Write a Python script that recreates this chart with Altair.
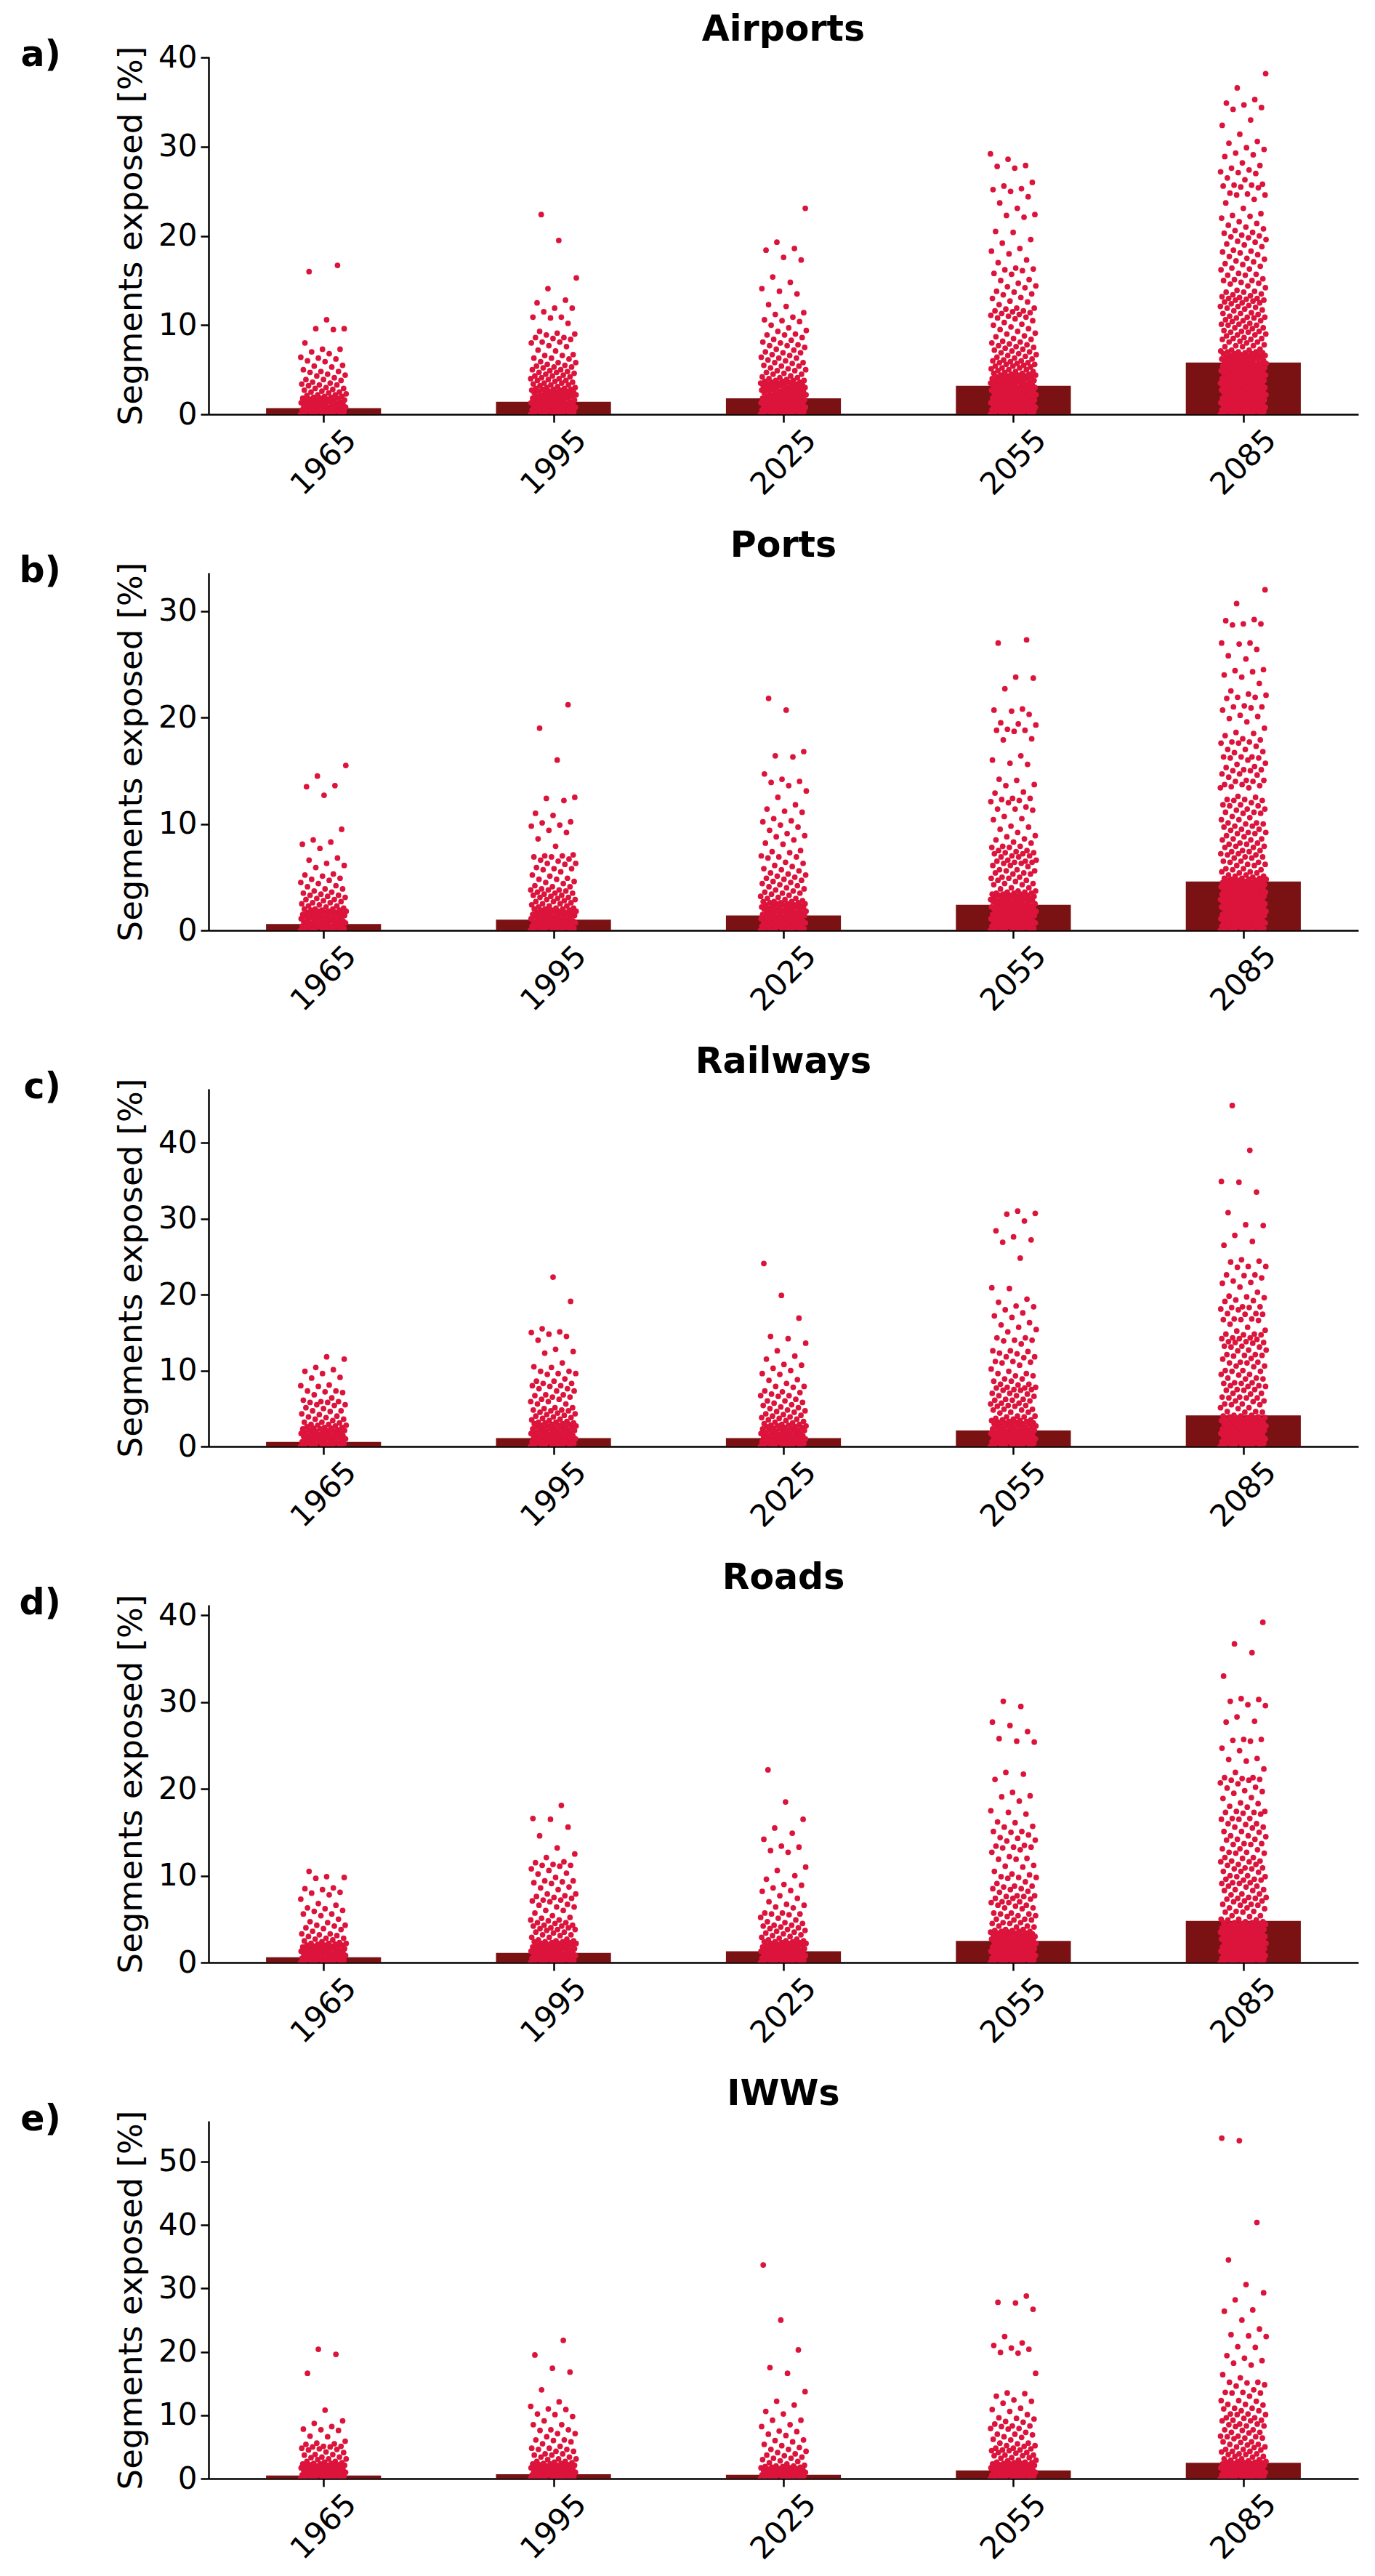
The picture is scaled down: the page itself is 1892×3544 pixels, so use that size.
import altair as alt
import pandas as pd

FONT = "DejaVu Sans"
BAR_COLOR = "#7a1113"
POINT_COLOR = "#dc143c"

YEARS = ["1965", "1995", "2025", "2055", "2085"]
PANELS = ["Airports", "Ports", "Railways", "Roads", "IWWs"]
LETTERS = ["a)", "b)", "c)", "d)", "e)"]
Y_MAX = [40.1, 33.6, 47.1, 41.2, 56.4]
Y_TICKS = [[0, 10, 20, 30, 40], [0, 10, 20, 30], [0, 10, 20, 30, 40],
           [0, 10, 20, 30, 40], [0, 10, 20, 30, 40, 50]]

# bar heights (mean share of segments exposed, %)
MEAN_AIRPORTS = [0.7, 1.4, 1.8, 3.2, 5.8]
MEAN_PORTS = [0.6, 1.0, 1.4, 2.4, 4.6]
MEAN_RAILWAYS = [0.6, 1.1, 1.1, 2.1, 4.1]
MEAN_ROADS = [0.6, 1.1, 1.3, 2.5, 4.8]
MEAN_IWWS = [0.5, 0.7, 0.6, 1.3, 2.5]

# individual regions (strip points), % of segments exposed
AIR_1965 = [16.7, 16.0, 10.6, 9.6, 9.6, 9.5, 8.0, 7.3, 7.3, 7.0, 6.8, 6.4, 6.3, 6.2, 6.0, 5.9, 5.5, 5.4, 5.3, 5.0,
            4.8, 4.8, 4.7, 4.5, 4.4, 4.3, 4.1, 3.9, 3.9, 3.8, 3.6, 3.5, 3.4, 3.3, 3.3, 3.2, 3.0, 2.9, 2.9, 2.8,
            2.7, 2.6, 2.5, 2.5, 2.4, 2.3, 2.2, 2.2, 2.1, 2.0, 2.0,
            0.0, 0.0, 0.0, 0.1, 0.1, 0.2, 0.2, 0.2, 0.3, 0.3, 0.4, 0.4, 0.4, 0.5, 0.5, 0.6, 0.6, 0.6, 0.7, 0.7,
            0.8, 0.8, 0.8, 0.9, 0.9, 1.0, 1.0, 1.0, 1.1, 1.1, 1.2, 1.2, 1.2, 1.3, 1.3, 1.4, 1.4, 1.4, 1.5, 1.5,
            1.6, 1.6, 1.6, 1.7, 1.7, 1.8, 1.8, 1.8, 1.9, 1.9]
AIR_1995 = [22.4, 19.5, 15.3, 14.1, 12.8, 12.5, 11.9, 11.9, 11.5, 10.9, 10.9, 10.8, 10.2, 9.3, 9.1, 9.0, 8.9, 8.6,
            8.6, 8.5, 8.4, 8.1, 8.1, 8.0, 7.7, 7.6, 7.2, 7.1, 6.7, 6.6, 6.6, 6.3, 6.3, 6.2, 5.9, 5.8, 5.8, 5.6,
            5.5, 5.4, 5.3, 5.3, 5.2, 5.0, 5.0, 4.9, 4.8, 4.7, 4.7, 4.6, 4.5, 4.4, 4.3, 4.3, 4.2, 4.1, 4.0, 4.0,
            3.9, 3.8, 3.8, 3.7, 3.6, 3.5, 3.5, 3.4, 3.3, 3.3, 3.2, 3.1, 3.0, 3.0,
            0.0, 0.0, 0.0, 0.1, 0.1, 0.2, 0.2, 0.2, 0.3, 0.3, 0.4, 0.4, 0.4, 0.5, 0.5, 0.6, 0.6, 0.6, 0.7, 0.7,
            0.8, 0.8, 0.8, 0.9, 0.9, 1.0, 1.0, 1.0, 1.1, 1.1, 1.2, 1.2, 1.2, 1.3, 1.3, 1.4, 1.4, 1.4, 1.5, 1.5,
            1.6, 1.6, 1.6, 1.7, 1.7, 1.8, 1.8, 1.8, 1.9, 1.9, 2.0, 2.0, 2.0, 2.1, 2.1, 2.2, 2.2, 2.2, 2.3, 2.3,
            2.4, 2.4, 2.4, 2.5, 2.5, 2.6, 2.6, 2.6, 2.7, 2.7, 2.8, 2.8, 2.8, 2.9, 2.9]
AIR_2025 = [23.1, 19.3, 18.6, 18.4, 17.6, 17.3, 15.4, 14.8, 14.1, 13.8, 13.5, 12.3, 12.1, 11.4, 11.2, 10.9, 10.6,
            10.5, 10.4, 10.0, 9.7, 9.4, 9.3, 9.0, 8.9, 8.9, 8.6, 8.4, 8.3, 8.1, 8.0, 7.8, 7.7, 7.7, 7.5, 7.3,
            7.2, 7.0, 6.9, 6.9, 6.7, 6.6, 6.4, 6.3, 6.3, 6.1, 6.0, 5.8, 5.8, 5.7, 5.5, 5.4, 5.4, 5.2, 5.1, 5.0,
            4.9, 4.9, 4.7, 4.6, 4.5, 4.5, 4.3, 4.2, 4.1, 4.1, 4.0, 3.9,
            0.0, 0.0, 0.0, 0.1, 0.1, 0.2, 0.2, 0.2, 0.3, 0.3, 0.4, 0.4, 0.4, 0.5, 0.5, 0.6, 0.6, 0.6, 0.7, 0.7,
            0.8, 0.8, 0.8, 0.9, 0.9, 1.0, 1.0, 1.0, 1.1, 1.1, 1.2, 1.2, 1.2, 1.3, 1.3, 1.4, 1.4, 1.4, 1.5, 1.5,
            1.6, 1.6, 1.6, 1.7, 1.7, 1.8, 1.8, 1.8, 1.9, 1.9, 2.0, 2.0, 2.0, 2.1, 2.1, 2.2, 2.2, 2.2, 2.3, 2.3,
            2.4, 2.4, 2.4, 2.5, 2.5, 2.6, 2.6, 2.6, 2.7, 2.7, 2.8, 2.8, 2.8, 2.9, 2.9, 3.0, 3.0, 3.0, 3.1, 3.1,
            3.2, 3.2, 3.2, 3.3, 3.3, 3.4, 3.4, 3.4, 3.5, 3.5, 3.6, 3.6, 3.6, 3.7, 3.7, 3.8, 3.8, 3.8]
AIR_2055 = [29.2, 28.6, 27.9, 27.8, 27.6, 26.0, 25.6, 25.3, 25.2, 25.0, 24.4, 23.7, 23.1, 22.4, 22.3, 22.1, 20.5,
            20.4, 19.6, 19.2, 18.6, 18.3, 18.0, 17.3, 17.0, 16.4, 16.3, 16.2, 16.1, 15.8, 15.7, 15.1, 15.0, 14.7,
            14.4, 14.3, 14.2, 13.8, 13.7, 13.5, 13.4, 13.1, 13.0, 12.7, 12.6, 12.3, 11.9, 11.9, 11.8, 11.6, 11.6,
            11.5, 11.4, 11.3, 11.2, 11.1, 11.0, 10.9, 10.8, 10.7, 10.5, 10.3, 10.1, 10.0, 9.8, 9.6, 9.5, 9.3,
            9.1, 9.0, 8.8, 8.7, 8.5, 8.4, 8.2, 8.1, 8.0, 7.9, 7.8, 7.7, 7.6, 7.5, 7.4, 7.3, 7.2, 7.1, 7.0, 6.9,
            6.8, 6.7, 6.6, 6.5, 6.4, 6.3, 6.2,
            6.1, 6.0, 6.0, 5.9, 5.8, 5.8, 5.7, 5.6, 5.6, 5.5, 5.4, 5.4, 5.3, 5.2, 5.2, 5.1, 5.0, 5.0, 4.9, 4.8,
            4.8, 4.7, 4.6, 4.6,
            0.0, 0.0, 0.0, 0.1, 0.1, 0.2, 0.2, 0.2, 0.3, 0.3, 0.4, 0.4, 0.4, 0.5, 0.5, 0.6, 0.6, 0.6, 0.7, 0.7,
            0.8, 0.8, 0.8, 0.9, 0.9, 1.0, 1.0, 1.0, 1.1, 1.1, 1.2, 1.2, 1.2, 1.3, 1.3, 1.4, 1.4, 1.4, 1.5, 1.5,
            1.6, 1.6, 1.6, 1.7, 1.7, 1.8, 1.8, 1.8, 1.9, 1.9, 2.0, 2.0, 2.0, 2.1, 2.1, 2.2, 2.2, 2.2, 2.3, 2.3,
            2.4, 2.4, 2.4, 2.5, 2.5, 2.6, 2.6, 2.6, 2.7, 2.7, 2.8, 2.8, 2.8, 2.9, 2.9, 3.0, 3.0, 3.0, 3.1, 3.1,
            3.2, 3.2, 3.2, 3.3, 3.3, 3.4, 3.4, 3.4, 3.5, 3.5, 3.6, 3.6, 3.6, 3.7, 3.7, 3.8, 3.8, 3.8, 3.9, 3.9,
            4.0, 4.0, 4.0, 4.1, 4.1, 4.2, 4.2, 4.2, 4.3, 4.3, 4.4, 4.4, 4.4, 4.5, 4.5]
AIR_2085 = [38.2, 36.6, 35.3, 34.9, 34.7, 34.4, 34.2, 33.0, 32.4, 31.4, 30.6, 30.4, 29.9, 29.7, 29.3, 29.1, 28.9,
            28.2, 27.9, 27.6, 27.4, 27.2, 27.1, 27.0, 26.5, 26.3, 25.8, 25.7, 25.7, 25.6, 25.5, 25.4, 24.8, 24.7,
            24.6, 24.6, 24.1, 23.7, 23.1, 22.5, 22.3, 22.2, 22.0, 21.6, 21.4, 21.2, 21.0, 20.8, 20.6, 20.4, 20.3,
            20.1, 20.0, 19.9, 19.8, 19.6, 19.4, 19.3, 19.1, 19.0, 18.8, 18.4, 18.3, 18.2, 18.1, 17.9, 17.7, 17.5,
            17.4, 17.2, 17.1, 16.9, 16.8, 16.6, 16.4, 16.3, 16.2, 15.8, 15.7, 15.6, 15.6, 15.2, 15.1, 15.0, 15.0,
            14.8, 14.7, 14.6, 14.4, 14.2, 13.9, 13.8, 13.7, 13.7, 13.5, 13.4, 13.3, 13.2, 13.1, 13.0, 13.0, 12.9,
            12.8, 12.8, 12.7, 12.6, 12.5, 12.5, 12.4, 12.2, 12.1, 12.1, 12.0, 11.9, 11.8, 11.7, 11.6, 11.4, 11.3,
            11.3, 11.2, 11.0, 10.9, 10.9, 10.8, 10.8, 10.6, 10.5, 10.5, 10.4, 10.2, 10.1, 10.1, 10.0, 10.0, 9.8,
            9.7, 9.7, 9.6, 9.4, 9.3, 9.3, 9.2, 9.2, 9.0, 8.9, 8.9, 8.8, 8.6, 8.5, 8.5, 8.4, 8.4, 8.2, 8.1, 8.1,
            8.0, 7.8, 7.7, 7.7, 7.6, 7.6, 7.3, 7.2, 7.2, 7.1,
            0.0, 0.0, 0.0, 0.1, 0.1, 0.2, 0.2, 0.2, 0.3, 0.3, 0.4, 0.4, 0.4, 0.5, 0.5, 0.6, 0.6, 0.6, 0.7, 0.7,
            0.8, 0.8, 0.8, 0.9, 0.9, 1.0, 1.0, 1.0, 1.1, 1.1, 1.2, 1.2, 1.2, 1.3, 1.3, 1.4, 1.4, 1.4, 1.5, 1.5,
            1.6, 1.6, 1.6, 1.7, 1.7, 1.8, 1.8, 1.8, 1.9, 1.9, 2.0, 2.0, 2.0, 2.1, 2.1, 2.2, 2.2, 2.2, 2.3, 2.3,
            2.4, 2.4, 2.4, 2.5, 2.5, 2.6, 2.6, 2.6, 2.7, 2.7, 2.8, 2.8, 2.8, 2.9, 2.9, 3.0, 3.0, 3.0, 3.1, 3.1,
            3.2, 3.2, 3.2, 3.3, 3.3, 3.4, 3.4, 3.4, 3.5, 3.5, 3.6, 3.6, 3.6, 3.7, 3.7, 3.8, 3.8, 3.8, 3.9, 3.9,
            4.0, 4.0, 4.0, 4.1, 4.1, 4.2, 4.2, 4.2, 4.3, 4.3, 4.4, 4.4, 4.4, 4.5, 4.5, 4.6, 4.6, 4.6, 4.7, 4.7,
            4.8, 4.8, 4.8, 4.9, 4.9, 5.0, 5.0, 5.0, 5.1, 5.1, 5.2, 5.2, 5.2, 5.3, 5.3, 5.4, 5.4, 5.4, 5.5, 5.5,
            5.6, 5.6, 5.6, 5.7, 5.7, 5.8, 5.8, 5.8, 5.9, 5.9, 6.0, 6.0, 6.0, 6.1, 6.1, 6.2, 6.2, 6.2, 6.3, 6.3,
            6.4, 6.4, 6.4, 6.5, 6.5, 6.6, 6.6, 6.6, 6.7, 6.7, 6.8, 6.8, 6.8, 6.9, 6.9, 7.0, 7.0, 7.0]

PORT_1965 = [15.5, 14.5, 13.6, 13.5, 12.7, 9.5, 8.5, 8.3, 8.1, 7.7, 6.8, 6.6, 6.3, 6.1, 5.9, 5.3, 5.2, 5.1, 4.9,
             4.8, 4.7, 4.5, 4.4, 4.2, 4.1, 3.9, 3.9, 3.7, 3.6, 3.5, 3.4, 3.3, 3.3, 3.2, 3.1, 3.0, 2.9, 2.9, 2.8,
             2.7, 2.6, 2.6, 2.5, 2.4, 2.3, 2.3, 2.2, 2.1,
             0.0, 0.0, 0.0, 0.1, 0.1, 0.1, 0.2, 0.2, 0.2, 0.3, 0.3, 0.3, 0.4, 0.4, 0.4, 0.5, 0.5, 0.5, 0.6, 0.6,
             0.6, 0.7, 0.7, 0.7, 0.8, 0.8, 0.8, 0.9, 0.9, 0.9, 1.0, 1.0, 1.0, 1.1, 1.1, 1.1, 1.2, 1.2, 1.2, 1.3,
             1.3, 1.3, 1.4, 1.4, 1.4, 1.5, 1.5, 1.5, 1.6, 1.6, 1.6, 1.7, 1.7, 1.7, 1.8, 1.8, 1.8, 1.9, 1.9, 1.9,
             2.0, 2.0, 2.0]
PORT_1995 = [21.2, 19.0, 16.0, 12.5, 12.4, 12.2, 11.0, 10.8, 10.2, 10.1, 9.9, 9.8, 9.4, 9.2, 8.6, 7.9, 7.1, 7.0,
             7.0, 6.9, 6.9, 6.7, 6.6, 6.5, 6.3, 6.3, 6.2, 5.9, 5.8, 5.8, 5.7, 5.5, 5.2, 5.1, 4.9, 4.8, 4.8, 4.6,
             4.5, 4.4, 4.2, 4.1, 4.1, 3.9, 3.8, 3.8, 3.8, 3.7, 3.6, 3.5, 3.5, 3.4, 3.3, 3.3, 3.2, 3.1, 3.1, 3.0,
             2.9, 2.9, 2.8, 2.7, 2.7, 2.6, 2.5, 2.5, 2.4, 2.3, 2.3, 2.2, 2.1, 2.1,
             0.0, 0.0, 0.0, 0.1, 0.1, 0.1, 0.2, 0.2, 0.2, 0.3, 0.3, 0.3, 0.4, 0.4, 0.4, 0.5, 0.5, 0.5, 0.6, 0.6,
             0.6, 0.7, 0.7, 0.7, 0.8, 0.8, 0.8, 0.9, 0.9, 0.9, 1.0, 1.0, 1.0, 1.1, 1.1, 1.1, 1.2, 1.2, 1.2, 1.3,
             1.3, 1.3, 1.4, 1.4, 1.4, 1.5, 1.5, 1.5, 1.6, 1.6, 1.6, 1.7, 1.7, 1.7, 1.8, 1.8, 1.8, 1.9, 1.9, 1.9,
             2.0, 2.0, 2.0]
PORT_2025 = [21.8, 20.7, 16.8, 16.4, 16.3, 14.7, 14.2, 14.0, 13.9, 13.6, 13.1, 12.5, 11.8, 11.4, 11.2, 11.1, 10.5,
             10.3, 10.2, 9.9, 9.7, 9.4, 9.1, 8.9, 8.8, 8.5, 8.2, 8.1, 7.5, 7.4, 7.3, 7.0, 6.9, 6.9, 6.8, 6.4, 6.3,
             6.1, 6.0, 5.8, 5.7, 5.6, 5.4, 5.3, 5.2, 5.1, 5.0, 4.9, 4.8, 4.7, 4.6, 4.5, 4.4, 4.3, 4.2, 4.1, 4.0,
             3.9, 3.8, 3.7, 3.6, 3.5, 3.5, 3.4, 3.3, 3.2, 3.1, 3.0, 3.0, 2.9, 2.8,
             0.0, 0.0, 0.0, 0.1, 0.1, 0.1, 0.2, 0.2, 0.2, 0.3, 0.3, 0.3, 0.4, 0.4, 0.4, 0.5, 0.5, 0.5, 0.6, 0.6,
             0.6, 0.7, 0.7, 0.7, 0.8, 0.8, 0.8, 0.9, 0.9, 0.9, 1.0, 1.0, 1.0, 1.1, 1.1, 1.1, 1.2, 1.2, 1.2, 1.3,
             1.3, 1.3, 1.4, 1.4, 1.4, 1.5, 1.5, 1.5, 1.6, 1.6, 1.6, 1.7, 1.7, 1.7, 1.8, 1.8, 1.8, 1.9, 1.9, 1.9,
             2.0, 2.0, 2.0, 2.1, 2.1, 2.1, 2.2, 2.2, 2.2, 2.3, 2.3, 2.3, 2.4, 2.4, 2.4, 2.5, 2.5, 2.5, 2.6, 2.6,
             2.6, 2.7, 2.7, 2.7]
PORT_2055 = [27.3, 27.0, 23.8, 23.7, 22.7, 20.8, 20.7, 20.6, 20.3, 19.5, 19.4, 19.3, 18.9, 18.8, 18.8, 18.7, 18.0,
             17.9, 16.4, 16.0, 15.7, 15.6, 14.2, 14.1, 13.7, 13.6, 13.0, 12.9, 12.4, 12.4, 12.3, 12.2, 12.1, 12.0,
             11.6, 11.4, 11.4, 11.3, 10.7, 10.5, 10.4, 9.8, 9.7, 9.5, 9.2, 8.9, 8.8, 8.6, 8.5, 8.3, 8.2, 7.9, 7.9,
             7.8, 7.8, 7.5, 7.5, 7.4, 7.3, 7.3, 7.2, 7.2, 7.0, 7.0, 6.9, 6.9, 6.6, 6.6, 6.5, 6.5, 6.4, 6.4, 6.3,
             6.3, 6.1, 6.1, 6.0, 5.7, 5.7, 5.6, 5.6, 5.4, 5.4, 5.3, 5.3, 5.0, 5.0, 4.9, 4.9, 4.7, 4.7, 4.6, 4.4,
             4.4, 4.3, 4.3, 4.0, 4.0, 3.9, 3.7, 3.7, 3.6, 3.6,
             0.0, 0.0, 0.0, 0.1, 0.1, 0.1, 0.2, 0.2, 0.2, 0.3, 0.3, 0.3, 0.4, 0.4, 0.4, 0.5, 0.5, 0.5, 0.6, 0.6,
             0.6, 0.7, 0.7, 0.7, 0.8, 0.8, 0.8, 0.9, 0.9, 0.9, 1.0, 1.0, 1.0, 1.1, 1.1, 1.1, 1.2, 1.2, 1.2, 1.3,
             1.3, 1.3, 1.4, 1.4, 1.4, 1.5, 1.5, 1.5, 1.6, 1.6, 1.6, 1.7, 1.7, 1.7, 1.8, 1.8, 1.8, 1.9, 1.9, 1.9,
             2.0, 2.0, 2.0, 2.1, 2.1, 2.1, 2.2, 2.2, 2.2, 2.3, 2.3, 2.3, 2.4, 2.4, 2.4, 2.5, 2.5, 2.5, 2.6, 2.6,
             2.6, 2.7, 2.7, 2.7, 2.8, 2.8, 2.8, 2.9, 2.9, 2.9, 3.0, 3.0, 3.0, 3.1, 3.1, 3.1, 3.2, 3.2, 3.2, 3.3,
             3.3, 3.3, 3.4, 3.4, 3.4, 3.5, 3.5, 3.5]
PORT_2085 = [32.0, 30.7, 29.2, 29.1, 28.8, 28.8, 28.7, 27.0, 27.0, 26.9, 26.4, 25.8, 25.5, 24.5, 24.4, 24.3, 24.0,
             23.8, 23.2, 22.5, 22.2, 22.1, 21.9, 21.9, 21.8, 21.1, 21.0, 21.0, 20.9, 20.7, 20.2, 20.1, 19.9, 19.6,
             19.0, 18.6, 18.5, 18.3, 18.0, 17.9, 17.7, 17.7, 17.6, 17.6, 17.3, 17.0, 17.0, 16.8, 16.7, 16.3, 16.3,
             16.3, 16.2, 16.2, 16.0, 15.7, 15.6, 15.4, 15.3, 15.1, 15.1, 15.0, 15.0, 14.7, 14.7, 14.6, 14.4, 14.1,
             14.1, 14.0, 14.0, 13.7, 13.7, 13.6, 13.5, 13.4, 13.4, 12.6, 12.5, 12.3, 12.3, 12.2, 12.2, 12.0, 11.8,
             11.8, 11.7, 11.7, 11.4, 11.4, 11.3, 11.1, 11.1, 11.0, 11.0, 10.7, 10.6, 10.4, 10.4, 10.1, 10.1, 10.0,
             10.0, 9.8, 9.8, 9.7, 9.5, 9.5, 9.4, 9.2, 9.2, 9.1, 9.1, 8.9, 8.8, 8.6, 8.6, 8.5, 8.5, 8.2, 8.2, 8.1,
             8.1, 7.9, 7.9, 7.8, 7.8, 7.5, 7.5, 7.4, 7.4, 7.2, 7.2, 7.1, 7.1, 6.9, 6.9, 6.8, 6.8, 6.5, 6.5, 6.4,
             6.4, 6.2, 6.2, 6.1, 6.1, 5.8, 5.8, 5.7, 5.7, 5.5, 5.5, 5.4, 5.4, 5.2, 5.2, 5.1, 5.1, 5.0,
             0.0, 0.0, 0.0, 0.1, 0.1, 0.1, 0.2, 0.2, 0.2, 0.3, 0.3, 0.3, 0.4, 0.4, 0.4, 0.5, 0.5, 0.5, 0.6, 0.6,
             0.6, 0.7, 0.7, 0.7, 0.8, 0.8, 0.8, 0.9, 0.9, 0.9, 1.0, 1.0, 1.0, 1.1, 1.1, 1.1, 1.2, 1.2, 1.2, 1.3,
             1.3, 1.3, 1.4, 1.4, 1.4, 1.5, 1.5, 1.5, 1.6, 1.6, 1.6, 1.7, 1.7, 1.7, 1.8, 1.8, 1.8, 1.9, 1.9, 1.9,
             2.0, 2.0, 2.0, 2.1, 2.1, 2.1, 2.2, 2.2, 2.2, 2.3, 2.3, 2.3, 2.4, 2.4, 2.4, 2.5, 2.5, 2.5, 2.6, 2.6,
             2.6, 2.7, 2.7, 2.7, 2.8, 2.8, 2.8, 2.9, 2.9, 2.9, 3.0, 3.0, 3.0, 3.1, 3.1, 3.1, 3.2, 3.2, 3.2, 3.3,
             3.3, 3.3, 3.4, 3.4, 3.4, 3.5, 3.5, 3.5, 3.6, 3.6, 3.6, 3.7, 3.7, 3.7, 3.8, 3.8, 3.8, 3.9, 3.9, 3.9,
             4.0, 4.0, 4.0, 4.1, 4.1, 4.1, 4.2, 4.2, 4.2, 4.3, 4.3, 4.3, 4.4, 4.4, 4.4, 4.5, 4.5, 4.5, 4.6, 4.6,
             4.6, 4.7, 4.7, 4.7, 4.8, 4.8, 4.8, 4.9, 4.9, 4.9]

RAIL_1965 = [11.8, 11.5, 10.4, 10.1, 9.9, 9.6, 9.1, 9.0, 8.1, 8.0, 7.9, 7.3, 7.3, 7.2, 7.1, 6.8, 6.4, 6.1, 5.9,
             5.9, 5.8, 5.8, 5.5, 5.5, 5.4, 5.1, 5.0, 4.7, 4.7, 4.6, 4.3, 4.2, 4.0, 3.9, 3.8, 3.6, 3.6, 3.4, 3.2,
             3.2, 3.1, 2.9, 2.9, 2.8, 2.8, 2.7, 2.6,
             0.0, 0.0, 0.1, 0.1, 0.2, 0.2, 0.3, 0.3, 0.4, 0.4, 0.5, 0.5, 0.6, 0.6, 0.7, 0.7, 0.8, 0.8, 0.9, 0.9,
             1.0, 1.0, 1.1, 1.1, 1.2, 1.2, 1.3, 1.3, 1.4, 1.4, 1.5, 1.5, 1.6, 1.6, 1.7, 1.7, 1.8, 1.8, 1.9, 1.9,
             2.0, 2.0, 2.1, 2.1, 2.2, 2.2, 2.3, 2.3, 2.4, 2.4, 2.5, 2.5]
RAIL_1995 = [22.3, 19.1, 15.5, 15.1, 15.0, 14.8, 14.5, 14.0, 12.8, 12.5, 12.3, 11.0, 10.5, 10.4, 9.9, 9.9, 9.6,
             9.6, 9.5, 8.9, 8.6, 8.6, 8.3, 8.3, 8.0, 8.0, 7.9, 7.6, 7.6, 7.3, 7.3, 6.8, 6.8, 6.7, 6.5, 6.5, 6.2,
             6.2, 5.9, 5.9, 5.6, 5.6, 5.1, 5.1, 5.0, 4.8, 4.8, 4.7, 4.7, 4.5, 4.4, 4.3, 4.2, 4.1, 4.0, 3.9, 3.8,
             3.7, 3.6, 3.5, 3.4, 3.3,
             0.0, 0.0, 0.1, 0.1, 0.2, 0.2, 0.3, 0.3, 0.4, 0.4, 0.5, 0.5, 0.6, 0.6, 0.7, 0.7, 0.8, 0.8, 0.9, 0.9,
             1.0, 1.0, 1.1, 1.1, 1.2, 1.2, 1.3, 1.3, 1.4, 1.4, 1.5, 1.5, 1.6, 1.6, 1.7, 1.7, 1.8, 1.8, 1.9, 1.9,
             2.0, 2.0, 2.1, 2.1, 2.2, 2.2, 2.3, 2.3, 2.4, 2.4, 2.5, 2.5, 2.6, 2.6, 2.7, 2.7, 2.8, 2.8, 2.9, 2.9,
             3.0, 3.0, 3.1, 3.1, 3.2, 3.2]
RAIL_2025 = [24.1, 19.9, 16.9, 14.5, 14.2, 13.6, 12.6, 11.9, 11.5, 10.8, 10.7, 10.3, 10.0, 9.6, 9.5, 8.8, 8.7,
             8.3, 7.9, 7.9, 7.8, 7.3, 7.2, 7.1, 6.9, 6.7, 6.7, 6.6, 6.2, 6.0, 6.0, 5.8, 5.7, 5.5, 5.4, 5.2, 5.1,
             5.0, 4.8, 4.7, 4.6, 4.5, 4.3, 4.2, 4.1, 4.0, 3.9, 3.8, 3.7, 3.6, 3.5, 3.4, 3.3, 3.2, 3.1, 3.0,
             0.0, 0.0, 0.1, 0.1, 0.2, 0.2, 0.3, 0.3, 0.4, 0.4, 0.5, 0.5, 0.6, 0.6, 0.7, 0.7, 0.8, 0.8, 0.9, 0.9,
             1.0, 1.0, 1.1, 1.1, 1.2, 1.2, 1.3, 1.3, 1.4, 1.4, 1.5, 1.5, 1.6, 1.6, 1.7, 1.7, 1.8, 1.8, 1.9, 1.9,
             2.0, 2.0, 2.1, 2.1, 2.2, 2.2, 2.3, 2.3, 2.4, 2.4, 2.5, 2.5, 2.6, 2.6, 2.7, 2.7, 2.8, 2.8, 2.9, 2.9]
RAIL_2055 = [31.0, 30.7, 30.6, 29.7, 28.4, 27.6, 27.2, 26.9, 24.8, 20.9, 20.8, 19.4, 19.0, 18.5, 18.4, 18.0, 17.6,
             17.2, 17.0, 16.3, 16.0, 15.7, 15.4, 15.1, 14.3, 14.3, 14.0, 14.0, 13.9, 13.5, 12.6, 12.6, 12.5, 12.3,
             12.2, 11.8, 11.8, 11.7, 11.2, 11.2, 11.1, 11.0, 10.7, 10.2, 9.9, 9.6, 9.6, 9.3, 9.3, 8.9, 8.9, 8.6,
             8.6, 8.2, 8.2, 8.1, 7.8, 7.8, 7.7, 7.7, 7.5, 7.5, 7.4, 7.4, 7.0, 7.0, 6.9, 6.7, 6.7, 6.6, 6.2, 6.2,
             6.1, 6.1, 6.0, 5.7, 5.7, 5.6, 5.4, 5.4, 5.3, 5.3, 4.9, 4.9, 4.8, 4.8, 4.5, 4.5, 4.4, 4.0, 4.0, 3.9,
             3.9, 3.7, 3.6,
             0.0, 0.0, 0.1, 0.1, 0.2, 0.2, 0.3, 0.3, 0.4, 0.4, 0.5, 0.5, 0.6, 0.6, 0.7, 0.7, 0.8, 0.8, 0.9, 0.9,
             1.0, 1.0, 1.1, 1.1, 1.2, 1.2, 1.3, 1.3, 1.4, 1.4, 1.5, 1.5, 1.6, 1.6, 1.7, 1.7, 1.8, 1.8, 1.9, 1.9,
             2.0, 2.0, 2.1, 2.1, 2.2, 2.2, 2.3, 2.3, 2.4, 2.4, 2.5, 2.5, 2.6, 2.6, 2.7, 2.7, 2.8, 2.8, 2.9, 2.9,
             3.0, 3.0, 3.1, 3.1, 3.2, 3.2, 3.3, 3.3, 3.4, 3.4, 3.5, 3.5]
RAIL_2085 = [44.9, 39.0, 34.9, 34.8, 33.5, 30.8, 29.2, 29.1, 27.8, 27.0, 26.5, 24.6, 24.4, 24.3, 23.7, 23.7, 23.6,
             22.6, 22.6, 22.5, 22.2, 21.8, 21.6, 21.5, 21.0, 20.3, 19.8, 19.7, 19.6, 19.3, 19.2, 19.1, 18.4, 18.4,
             18.3, 18.3, 18.1, 18.0, 17.5, 17.5, 17.4, 17.4, 16.8, 16.8, 16.7, 16.7, 16.6, 16.1, 15.7, 15.3, 15.2,
             14.8, 14.8, 14.7, 14.7, 14.3, 14.3, 14.2, 14.2, 14.1, 13.8, 13.8, 13.7, 13.7, 13.6, 13.2, 13.2, 13.1,
             13.1, 12.7, 12.7, 12.6, 12.1, 12.1, 12.0, 12.0, 11.9, 11.6, 11.5, 11.1, 11.1, 11.0, 11.0, 10.6, 10.6,
             10.5, 10.0, 10.0, 9.9, 9.9, 9.5, 9.5, 9.4, 9.0, 9.0, 8.9, 8.9, 8.4, 8.4, 8.3, 8.3, 8.0, 8.0, 7.9,
             7.9, 7.5, 7.5, 7.4, 7.4, 7.0, 7.0, 6.9, 6.5, 6.5, 6.4, 6.4, 6.4, 6.0, 6.0, 5.9, 5.6, 5.6, 5.5, 5.5,
             5.1, 5.1, 5.0, 4.6, 4.6, 4.5, 4.5,
             0.0, 0.0, 0.1, 0.1, 0.2, 0.2, 0.3, 0.3, 0.4, 0.4, 0.5, 0.5, 0.6, 0.6, 0.7, 0.7, 0.8, 0.8, 0.9, 0.9,
             1.0, 1.0, 1.1, 1.1, 1.2, 1.2, 1.3, 1.3, 1.4, 1.4, 1.5, 1.5, 1.6, 1.6, 1.7, 1.7, 1.8, 1.8, 1.9, 1.9,
             2.0, 2.0, 2.1, 2.1, 2.2, 2.2, 2.3, 2.3, 2.4, 2.4, 2.5, 2.5, 2.6, 2.6, 2.7, 2.7, 2.8, 2.8, 2.9, 2.9,
             3.0, 3.0, 3.1, 3.1, 3.2, 3.2, 3.3, 3.3, 3.4, 3.4, 3.5, 3.5, 3.6, 3.6, 3.7, 3.7, 3.8, 3.8, 3.9, 3.9,
             4.0, 4.0, 4.1, 4.1]

ROAD_1965 = [10.5, 9.9, 9.8, 9.7, 8.6, 8.5, 8.4, 8.1, 8.0, 7.8, 7.3, 6.8, 6.6, 6.3, 6.2, 6.0, 5.9, 5.6, 5.6, 5.4,
             5.0, 4.7, 4.6, 4.3, 4.3, 4.2, 4.0, 3.9, 3.8, 3.6, 3.3, 3.3, 3.2, 3.1, 3.0, 2.8, 2.8, 2.7, 2.6, 2.5,
             2.4, 2.3,
             0.0, 0.0, 0.0, 0.1, 0.1, 0.2, 0.2, 0.2, 0.3, 0.3, 0.4, 0.4, 0.4, 0.5, 0.5, 0.6, 0.6, 0.6, 0.7, 0.7,
             0.8, 0.8, 0.8, 0.9, 0.9, 1.0, 1.0, 1.0, 1.1, 1.1, 1.2, 1.2, 1.2, 1.3, 1.3, 1.4, 1.4, 1.4, 1.5, 1.5,
             1.6, 1.6, 1.6, 1.7, 1.7, 1.8, 1.8, 1.8, 1.9, 1.9, 2.0, 2.0, 2.0, 2.1, 2.1, 2.2, 2.2, 2.2]
ROAD_1995 = [18.1, 16.6, 16.5, 15.6, 14.6, 13.2, 12.5, 12.1, 11.6, 11.5, 11.3, 11.2, 11.2, 11.1, 10.8, 10.6, 10.3,
             10.2, 9.8, 9.4, 9.4, 9.3, 9.2, 9.1, 8.7, 8.6, 8.4, 7.9, 7.9, 7.7, 7.6, 7.5, 7.4, 7.2, 7.2, 7.1, 7.0,
             6.7, 6.6, 6.4, 6.4, 6.0, 6.0, 5.7, 5.4, 5.2, 5.1, 4.9, 4.9, 4.8, 4.6, 4.6, 4.5, 4.3, 4.3, 4.2, 4.2,
             4.0, 4.0, 3.9, 3.8, 3.8, 3.7, 3.5, 3.5, 3.4, 3.2, 3.2, 3.1, 2.9, 2.9, 2.7, 2.6,
             0.0, 0.0, 0.0, 0.1, 0.1, 0.2, 0.2, 0.2, 0.3, 0.3, 0.4, 0.4, 0.4, 0.5, 0.5, 0.6, 0.6, 0.6, 0.7, 0.7,
             0.8, 0.8, 0.8, 0.9, 0.9, 1.0, 1.0, 1.0, 1.1, 1.1, 1.2, 1.2, 1.2, 1.3, 1.3, 1.4, 1.4, 1.4, 1.5, 1.5,
             1.6, 1.6, 1.6, 1.7, 1.7, 1.8, 1.8, 1.8, 1.9, 1.9, 2.0, 2.0, 2.0, 2.1, 2.1, 2.2, 2.2, 2.2, 2.3, 2.3,
             2.4, 2.4, 2.4, 2.5, 2.5]
ROAD_2025 = [22.2, 18.5, 16.5, 15.5, 14.9, 14.2, 13.4, 13.3, 12.9, 12.7, 11.0, 10.6, 10.0, 9.6, 9.0, 8.9, 8.6,
             8.3, 8.2, 7.7, 7.4, 7.0, 6.7, 6.6, 6.4, 6.3, 5.7, 5.7, 5.6, 5.6, 5.5, 5.2, 5.1, 4.9, 4.7, 4.6, 4.5,
             4.3, 4.3, 4.2, 4.1, 4.0, 3.9, 3.8, 3.7, 3.6, 3.5, 3.4, 3.3, 3.2, 3.1, 3.0, 2.9, 2.8, 2.7, 2.6,
             0.0, 0.0, 0.0, 0.1, 0.1, 0.2, 0.2, 0.2, 0.3, 0.3, 0.4, 0.4, 0.4, 0.5, 0.5, 0.6, 0.6, 0.6, 0.7, 0.7,
             0.8, 0.8, 0.8, 0.9, 0.9, 1.0, 1.0, 1.0, 1.1, 1.1, 1.2, 1.2, 1.2, 1.3, 1.3, 1.4, 1.4, 1.4, 1.5, 1.5,
             1.6, 1.6, 1.6, 1.7, 1.7, 1.8, 1.8, 1.8, 1.9, 1.9, 2.0, 2.0, 2.0, 2.1, 2.1, 2.2, 2.2, 2.2, 2.3, 2.3,
             2.4, 2.4, 2.4, 2.5, 2.5]
ROAD_2055 = [30.1, 29.5, 27.7, 27.3, 26.6, 25.8, 25.5, 25.4, 21.9, 21.7, 21.1, 19.6, 19.2, 19.1, 18.6, 17.5, 17.3,
             17.1, 16.2, 16.1, 15.7, 15.6, 15.1, 15.1, 15.0, 14.7, 14.4, 14.3, 14.1, 14.0, 13.5, 13.4, 13.3, 13.3,
             13.2, 13.0, 12.7, 12.2, 12.0, 11.9, 11.9, 11.2, 11.1, 11.0, 10.5, 10.2, 10.1, 9.9, 9.8, 9.8, 9.7, 9.3,
             9.1, 8.8, 8.8, 8.7, 8.5, 8.5, 8.4, 8.2, 8.1, 7.7, 7.7, 7.6, 7.6, 7.4, 7.4, 7.3, 7.0, 7.0, 6.9, 6.9,
             6.6, 6.6, 6.5, 6.3, 6.3, 6.2, 5.7, 5.7, 5.6, 5.6, 5.4, 5.4, 5.3, 5.0, 5.0, 4.9, 4.9, 4.6, 4.6, 4.5,
             4.5, 4.2, 4.2, 4.1, 4.1, 3.8, 3.8, 3.7, 3.7,
             0.0, 0.0, 0.0, 0.1, 0.1, 0.2, 0.2, 0.2, 0.3, 0.3, 0.4, 0.4, 0.4, 0.5, 0.5, 0.6, 0.6, 0.6, 0.7, 0.7,
             0.8, 0.8, 0.8, 0.9, 0.9, 1.0, 1.0, 1.0, 1.1, 1.1, 1.2, 1.2, 1.2, 1.3, 1.3, 1.4, 1.4, 1.4, 1.5, 1.5,
             1.6, 1.6, 1.6, 1.7, 1.7, 1.8, 1.8, 1.8, 1.9, 1.9, 2.0, 2.0, 2.0, 2.1, 2.1, 2.2, 2.2, 2.2, 2.3, 2.3,
             2.4, 2.4, 2.4, 2.5, 2.5, 2.6, 2.6, 2.6, 2.7, 2.7, 2.8, 2.8, 2.8, 2.9, 2.9, 3.0, 3.0, 3.0, 3.1, 3.1,
             3.2, 3.2, 3.2, 3.3, 3.3, 3.4, 3.4, 3.4, 3.5, 3.5, 3.6, 3.6, 3.6]
ROAD_2085 = [39.2, 36.7, 35.7, 33.0, 30.4, 30.3, 30.1, 29.7, 29.6, 28.3, 27.8, 27.7, 25.7, 25.7, 25.6, 25.5, 24.7,
             24.4, 23.5, 23.4, 23.2, 22.3, 21.9, 21.3, 21.3, 21.2, 21.1, 21.0, 21.0, 20.7, 20.6, 20.2, 20.1, 19.8,
             19.7, 19.5, 19.0, 18.9, 18.4, 18.3, 18.0, 17.9, 17.4, 17.4, 17.3, 17.3, 17.2, 17.1, 16.6, 16.6, 16.5,
             16.5, 16.0, 16.0, 15.9, 15.6, 15.6, 15.5, 15.1, 15.1, 15.0, 14.6, 14.6, 14.5, 14.2, 14.2, 14.1, 13.7,
             13.7, 13.6, 13.6, 13.1, 13.1, 13.0, 12.7, 12.7, 12.6, 12.6, 12.1, 12.1, 12.0, 11.7, 11.7, 11.6, 11.6,
             11.3, 11.3, 11.2, 10.9, 10.9, 10.8, 10.8, 10.5, 10.5, 10.4, 10.0, 10.0, 9.9, 9.9, 9.6, 9.6, 9.5, 9.5,
             9.2, 9.2, 9.1, 9.1, 8.8, 8.8, 8.7, 8.4, 8.4, 8.3, 8.3, 7.9, 7.9, 7.8, 7.5, 7.5, 7.4, 7.4, 7.3, 7.1,
             7.1, 7.0, 6.7, 6.7, 6.6, 6.6, 6.3, 6.3, 6.2, 5.9, 5.9, 5.8, 5.8, 5.4, 5.4, 5.3, 5.0, 5.0, 4.9, 4.9,
             0.0, 0.0, 0.0, 0.1, 0.1, 0.2, 0.2, 0.2, 0.3, 0.3, 0.4, 0.4, 0.4, 0.5, 0.5, 0.6, 0.6, 0.6, 0.7, 0.7,
             0.8, 0.8, 0.8, 0.9, 0.9, 1.0, 1.0, 1.0, 1.1, 1.1, 1.2, 1.2, 1.2, 1.3, 1.3, 1.4, 1.4, 1.4, 1.5, 1.5,
             1.6, 1.6, 1.6, 1.7, 1.7, 1.8, 1.8, 1.8, 1.9, 1.9, 2.0, 2.0, 2.0, 2.1, 2.1, 2.2, 2.2, 2.2, 2.3, 2.3,
             2.4, 2.4, 2.4, 2.5, 2.5, 2.6, 2.6, 2.6, 2.7, 2.7, 2.8, 2.8, 2.8, 2.9, 2.9, 3.0, 3.0, 3.0, 3.1, 3.1,
             3.2, 3.2, 3.2, 3.3, 3.3, 3.4, 3.4, 3.4, 3.5, 3.5, 3.6, 3.6, 3.6, 3.7, 3.7, 3.8, 3.8, 3.8, 3.9, 3.9,
             4.0, 4.0, 4.0, 4.1, 4.1, 4.2, 4.2, 4.2, 4.3, 4.3, 4.4, 4.4, 4.4, 4.5, 4.5, 4.6, 4.6, 4.6, 4.7, 4.7]

IWW_1965 = [20.4, 19.6, 16.6, 10.8, 9.1, 8.7, 8.2, 7.8, 7.7, 7.6, 6.7, 6.6, 5.9, 5.6, 5.5, 5.4, 5.1, 5.1, 5.0, 5.0,
            4.8, 4.7, 4.6, 4.5, 4.2, 4.1, 3.8, 3.8, 3.7, 3.4, 3.4, 3.3, 3.1, 3.1, 3.0, 2.7, 2.7, 2.6, 2.5,
            0.0, 0.0, 0.1, 0.1, 0.2, 0.2, 0.3, 0.3, 0.4, 0.4, 0.5, 0.5, 0.6, 0.6, 0.7, 0.7, 0.8, 0.8, 0.9, 0.9,
            1.0, 1.0, 1.1, 1.1, 1.2, 1.2, 1.3, 1.3, 1.4, 1.4, 1.5, 1.5, 1.6, 1.6, 1.7, 1.7, 1.8, 1.8, 1.9, 1.9,
            2.0, 2.0, 2.1, 2.1, 2.2, 2.2, 2.3, 2.3, 2.4, 2.4]
IWW_1995 = [21.8, 19.5, 17.4, 16.8, 14.0, 12.1, 11.4, 11.0, 10.9, 10.2, 10.1, 9.8, 9.1, 8.5, 8.5, 7.7, 7.7, 7.6,
            7.1, 7.1, 6.6, 6.1, 6.1, 6.0, 5.8, 5.5, 5.1, 4.8, 4.8, 4.6, 4.6, 4.3, 4.3, 3.9, 3.9, 3.7, 3.7, 3.4,
            3.4, 3.1, 3.1, 3.0, 2.7, 2.7, 2.6, 2.5,
            0.0, 0.0, 0.1, 0.1, 0.2, 0.2, 0.3, 0.3, 0.4, 0.4, 0.5, 0.5, 0.6, 0.6, 0.7, 0.7, 0.8, 0.8, 0.9, 0.9,
            1.0, 1.0, 1.1, 1.1, 1.2, 1.2, 1.3, 1.3, 1.4, 1.4, 1.5, 1.5, 1.6, 1.6, 1.7, 1.7, 1.8, 1.8, 1.9, 1.9,
            2.0, 2.0, 2.1, 2.1, 2.2, 2.2, 2.3, 2.3, 2.4, 2.4]
IWW_2025 = [33.7, 25.0, 20.3, 17.5, 16.6, 13.7, 12.2, 11.6, 10.6, 10.2, 9.2, 9.2, 8.5, 8.2, 7.5, 7.4, 7.0, 6.8,
            6.1, 6.0, 5.8, 5.4, 5.2, 4.9, 4.6, 4.6, 4.3, 4.1, 3.9, 3.7, 3.6, 3.4, 3.2, 3.2, 3.0, 2.8, 2.7, 2.5,
            2.3, 2.1,
            0.0, 0.0, 0.1, 0.1, 0.2, 0.2, 0.3, 0.3, 0.4, 0.4, 0.5, 0.5, 0.6, 0.6, 0.7, 0.7, 0.8, 0.8, 0.9, 0.9,
            1.0, 1.0, 1.1, 1.1, 1.2, 1.2, 1.3, 1.3, 1.4, 1.4, 1.5, 1.5, 1.6, 1.6, 1.7, 1.7, 1.8, 1.8, 1.9, 1.9,
            2.0, 2.0]
IWW_2055 = [28.8, 27.8, 27.7, 26.7, 22.4, 21.4, 21.0, 20.6, 20.4, 19.9, 19.8, 16.6, 13.5, 13.4, 13.0, 12.4, 12.2,
            11.9, 11.1, 10.9, 10.6, 10.1, 9.6, 9.5, 9.4, 9.0, 8.9, 8.6, 8.3, 8.3, 8.2, 7.9, 7.9, 7.8, 7.3, 7.0,
            7.0, 6.9, 6.6, 6.5, 6.2, 6.1, 5.6, 5.6, 5.5, 5.2, 5.2, 5.1, 4.8, 4.8, 4.7, 4.5, 4.5, 4.4, 4.4, 4.1,
            4.1, 4.0, 3.7, 3.7, 3.6, 3.6, 3.3, 3.3, 3.2, 2.9, 2.9, 2.8,
            0.0, 0.0, 0.1, 0.1, 0.2, 0.2, 0.3, 0.3, 0.4, 0.4, 0.5, 0.5, 0.6, 0.6, 0.7, 0.7, 0.8, 0.8, 0.9, 0.9,
            1.0, 1.0, 1.1, 1.1, 1.2, 1.2, 1.3, 1.3, 1.4, 1.4, 1.5, 1.5, 1.6, 1.6, 1.7, 1.7, 1.8, 1.8, 1.9, 1.9,
            2.0, 2.0, 2.1, 2.1, 2.2, 2.2, 2.3, 2.3, 2.4, 2.4, 2.5, 2.5, 2.6, 2.6]
IWW_2085 = [53.7, 53.3, 40.4, 34.5, 30.6, 29.3, 28.2, 26.6, 26.4, 25.0, 23.6, 22.7, 22.5, 22.4, 20.8, 20.7, 19.4,
            19.0, 18.6, 18.2, 17.9, 16.4, 15.9, 15.2, 15.2, 15.1, 14.8, 14.6, 14.0, 13.6, 13.6, 13.5, 13.5, 13.0,
            12.3, 12.3, 12.2, 11.7, 11.7, 11.6, 11.1, 11.1, 11.0, 10.7, 10.7, 10.2, 10.2, 10.1, 10.1, 9.6, 9.6,
            9.5, 9.2, 9.2, 9.1, 9.1, 8.6, 8.6, 8.5, 8.3, 8.3, 8.2, 7.7, 7.7, 7.6, 7.3, 7.3, 7.2, 6.7, 6.7, 6.6,
            6.6, 6.4, 6.4, 6.3, 5.8, 5.8, 5.7, 5.4, 5.4, 5.3, 5.0, 5.0, 4.9, 4.6, 4.6, 4.5, 4.3, 4.3, 4.2, 3.9,
            3.9, 3.8, 3.8, 3.5, 3.5, 3.4, 3.1, 3.1, 3.0, 2.9, 2.8,
            0.0, 0.0, 0.1, 0.1, 0.2, 0.2, 0.3, 0.3, 0.4, 0.4, 0.5, 0.5, 0.6, 0.6, 0.7, 0.7, 0.8, 0.8, 0.9, 0.9,
            1.0, 1.0, 1.1, 1.1, 1.2, 1.2, 1.3, 1.3, 1.4, 1.4, 1.5, 1.5, 1.6, 1.6, 1.7, 1.7, 1.8, 1.8, 1.9, 1.9,
            2.0, 2.0, 2.1, 2.1, 2.2, 2.2, 2.3, 2.3, 2.4, 2.4, 2.5, 2.5, 2.6, 2.6, 2.7, 2.7]

POINTS = [
    [AIR_1965, AIR_1995, AIR_2025, AIR_2055, AIR_2085],
    [PORT_1965, PORT_1995, PORT_2025, PORT_2055, PORT_2085],
    [RAIL_1965, RAIL_1995, RAIL_2025, RAIL_2055, RAIL_2085],
    [ROAD_1965, ROAD_1995, ROAD_2025, ROAD_2055, ROAD_2085],
    [IWW_1965, IWW_1995, IWW_2025, IWW_2055, IWW_2085],
]
MEANS = [MEAN_AIRPORTS, MEAN_PORTS, MEAN_RAILWAYS, MEAN_ROADS, MEAN_IWWS]

# strip-plot jitter: spread each group's sorted values across a narrow band
rows = []
for p, groups in enumerate(POINTS):
    for i, vals in enumerate(groups):
        for r, v in enumerate(sorted(vals)):
            jit = ((r * 0.6180339887) % 1.0) - 0.5
            rows.append({"panel": PANELS[p], "idx": i, "value": v, "pos": i + jit * 0.2})
points_df = pd.DataFrame(rows)

bar_rows = []
for p, means in enumerate(MEANS):
    for i, m in enumerate(means):
        bar_rows.append({"panel": PANELS[p], "idx": i, "mean": m, "base": 0.0,
                         "x0": i - 0.25, "x1": i + 0.25})
bars_df = pd.DataFrame(bar_rows)

label_expr = "[" + ",".join("'%s'" % y for y in YEARS) + "][datum.value]"

PLOT_W = 1582
PLOT_H = 492


def panel(k):
    name = PANELS[k]
    xscale = alt.Scale(domain=[-0.5, 4.5], nice=False, zero=False)
    yscale = alt.Scale(domain=[0, Y_MAX[k]], nice=False, zero=True)
    xaxis = alt.Axis(values=[0, 1, 2, 3, 4], labelExpr=label_expr, labelAngle=315,
                     labelAlign="center", labelBaseline="middle", labelPadding=55, title=None)
    yaxis = alt.Axis(values=Y_TICKS[k], title="Segments exposed [%]", labelPadding=5, titlePadding=14)

    bars = alt.Chart(bars_df[bars_df.panel == name]).mark_bar(color=BAR_COLOR).encode(
        x=alt.X("x0:Q", scale=xscale, axis=xaxis),
        x2="x1:Q",
        y=alt.Y("mean:Q", scale=yscale, axis=yaxis),
        y2="base:Q",
    )
    pts = alt.Chart(points_df[points_df.panel == name]).mark_circle(
        size=60, color=POINT_COLOR, opacity=1, clip=True
    ).encode(
        x=alt.X("pos:Q", scale=xscale, axis=xaxis),
        y=alt.Y("value:Q", scale=yscale, axis=yaxis),
    )
    letter = alt.Chart(pd.DataFrame({"t": [LETTERS[k]]})).mark_text(
        align="right", baseline="alphabetic", font=FONT, fontSize=49, fontWeight="bold", color="black"
    ).encode(text="t:N", x=alt.value(-203), y=alt.value(13))
    title = alt.Chart(pd.DataFrame({"t": [name]})).mark_text(
        align="center", baseline="alphabetic", font=FONT, fontSize=49, fontWeight="bold", color="black"
    ).encode(text="t:N", x=alt.value(PLOT_W / 2), y=alt.value(-22))

    return alt.layer(bars, pts, letter, title).properties(width=PLOT_W, height=PLOT_H)


chart = (
    alt.vconcat(*[panel(k) for k in range(5)], spacing=218, bounds="flush")
    .properties(padding={"left": 18, "top": 9, "right": 10, "bottom": 10})
    .configure_view(stroke=None)
    .configure_axis(
        grid=False,
        domainColor="black",
        domainWidth=2.5,
        tickColor="black",
        tickWidth=2.5,
        tickSize=11,
        labelFont=FONT,
        labelFontSize=42,
        labelColor="black",
        titleFont=FONT,
        titleFontSize=45,
        titleFontWeight="normal",
        titleColor="black",
    )
)

chart.save("out.html", embed_options={"renderer": "svg", "actions": False})
